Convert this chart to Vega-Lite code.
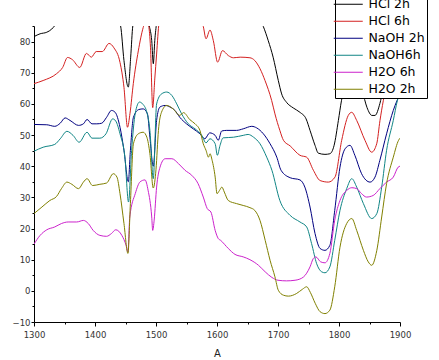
{
"$schema":"https://vega.github.io/schema/vega-lite/v6.json",
"width":366,"height":296,
"autosize":{"type":"none"},
"padding":{"left":34,"top":26,"right":39,"bottom":38},
"background":"white",
"config":{"view":{"stroke":null},"font":"DejaVu Sans"},
"data":{"values":[
{"s":"HCl 2h","x":1300,"y":81.6},{"s":"HCl 2h","x":1310,"y":82.5},{"s":"HCl 2h","x":1321,"y":83},{"s":"HCl 2h","x":1329,"y":84},{"s":"HCl 2h","x":1334,"y":85.1},{"s":"HCl 2h","x":1345,"y":88},{"s":"HCl 2h","x":1380,"y":92},{"s":"HCl 2h","x":1420,"y":92},{"s":"HCl 2h","x":1436,"y":88},{"s":"HCl 2h","x":1442,"y":85},{"s":"HCl 2h","x":1447.5,"y":73.9},{"s":"HCl 2h","x":1454.6,"y":65.4},{"s":"HCl 2h","x":1458.5,"y":75},{"s":"HCl 2h","x":1462,"y":85},{"s":"HCl 2h","x":1470,"y":90},{"s":"HCl 2h","x":1482,"y":90},{"s":"HCl 2h","x":1489,"y":85},{"s":"HCl 2h","x":1493,"y":80.3},{"s":"HCl 2h","x":1495.6,"y":72.9},{"s":"HCl 2h","x":1498,"y":80.3},{"s":"HCl 2h","x":1501,"y":86},{"s":"HCl 2h","x":1510,"y":93},{"s":"HCl 2h","x":1560,"y":98},{"s":"HCl 2h","x":1640,"y":95},{"s":"HCl 2h","x":1668,"y":88},{"s":"HCl 2h","x":1676,"y":84.8},{"s":"HCl 2h","x":1684,"y":80.3},{"s":"HCl 2h","x":1692,"y":75},{"s":"HCl 2h","x":1700.5,"y":67.5},{"s":"HCl 2h","x":1706,"y":63.2},{"s":"HCl 2h","x":1714,"y":60.5},{"s":"HCl 2h","x":1725,"y":58.7},{"s":"HCl 2h","x":1736,"y":57.3},{"s":"HCl 2h","x":1746,"y":55.2},{"s":"HCl 2h","x":1752.5,"y":51.5},{"s":"HCl 2h","x":1760.7,"y":46.7},{"s":"HCl 2h","x":1766,"y":44.2},{"s":"HCl 2h","x":1777,"y":43.8},{"s":"HCl 2h","x":1785,"y":44},{"s":"HCl 2h","x":1792,"y":46.7},{"s":"HCl 2h","x":1799,"y":54.7},{"s":"HCl 2h","x":1804,"y":61},{"s":"HCl 2h","x":1812,"y":67},{"s":"HCl 2h","x":1822,"y":70},{"s":"HCl 2h","x":1830,"y":69},{"s":"HCl 2h","x":1838,"y":64.3},{"s":"HCl 2h","x":1846,"y":58.8},{"s":"HCl 2h","x":1854,"y":56.3},{"s":"HCl 2h","x":1859,"y":56.3},{"s":"HCl 2h","x":1867,"y":60.1},{"s":"HCl 2h","x":1872,"y":64.3},{"s":"HCl 2h","x":1880,"y":70},{"s":"HCl 2h","x":1890,"y":75},{"s":"HCl 2h","x":1900,"y":78},
{"s":"HCl 6h","x":1300,"y":66.5},{"s":"HCl 6h","x":1315,"y":67.5},{"s":"HCl 6h","x":1337,"y":69.7},{"s":"HCl 6h","x":1347,"y":71.7},{"s":"HCl 6h","x":1355,"y":74.9},{"s":"HCl 6h","x":1363,"y":74.2},{"s":"HCl 6h","x":1375,"y":71.7},{"s":"HCl 6h","x":1386,"y":76.2},{"s":"HCl 6h","x":1394,"y":75},{"s":"HCl 6h","x":1402,"y":76.8},{"s":"HCl 6h","x":1412,"y":76.8},{"s":"HCl 6h","x":1423,"y":79.4},{"s":"HCl 6h","x":1431,"y":78},{"s":"HCl 6h","x":1441,"y":73.3},{"s":"HCl 6h","x":1447.5,"y":65.3},{"s":"HCl 6h","x":1453.3,"y":52.5},{"s":"HCl 6h","x":1457.4,"y":57},{"s":"HCl 6h","x":1462.8,"y":66.5},{"s":"HCl 6h","x":1471,"y":77},{"s":"HCl 6h","x":1479,"y":84.5},{"s":"HCl 6h","x":1484,"y":87},{"s":"HCl 6h","x":1488,"y":85},{"s":"HCl 6h","x":1491,"y":78},{"s":"HCl 6h","x":1494.6,"y":58.8},{"s":"HCl 6h","x":1498,"y":68},{"s":"HCl 6h","x":1501,"y":76},{"s":"HCl 6h","x":1505,"y":86},{"s":"HCl 6h","x":1515,"y":92},{"s":"HCl 6h","x":1545,"y":95},{"s":"HCl 6h","x":1570,"y":89},{"s":"HCl 6h","x":1577.6,"y":84.8},{"s":"HCl 6h","x":1582,"y":80.9},{"s":"HCl 6h","x":1588.5,"y":83.7},{"s":"HCl 6h","x":1594,"y":80.3},{"s":"HCl 6h","x":1601,"y":73.4},{"s":"HCl 6h","x":1609,"y":77.1},{"s":"HCl 6h","x":1618.6,"y":75.5},{"s":"HCl 6h","x":1627,"y":74.8},{"s":"HCl 6h","x":1638,"y":75},{"s":"HCl 6h","x":1654,"y":74.8},{"s":"HCl 6h","x":1662,"y":73.9},{"s":"HCl 6h","x":1670.5,"y":71.3},{"s":"HCl 6h","x":1678.7,"y":67.5},{"s":"HCl 6h","x":1689.6,"y":61.1},{"s":"HCl 6h","x":1695,"y":56.8},{"s":"HCl 6h","x":1703,"y":51.5},{"s":"HCl 6h","x":1709,"y":48.3},{"s":"HCl 6h","x":1720,"y":46.5},{"s":"HCl 6h","x":1736,"y":43.5},{"s":"HCl 6h","x":1747,"y":42.9},{"s":"HCl 6h","x":1758,"y":38.7},{"s":"HCl 6h","x":1769,"y":35.4},{"s":"HCl 6h","x":1782.5,"y":34.9},{"s":"HCl 6h","x":1793.4,"y":36.5},{"s":"HCl 6h","x":1804.4,"y":48.3},{"s":"HCl 6h","x":1815.2,"y":56.3},{"s":"HCl 6h","x":1820.8,"y":57.3},{"s":"HCl 6h","x":1829,"y":54.7},{"s":"HCl 6h","x":1842.6,"y":48.3},{"s":"HCl 6h","x":1853.6,"y":44.5},{"s":"HCl 6h","x":1861.8,"y":47.2},{"s":"HCl 6h","x":1867.2,"y":54.7},{"s":"HCl 6h","x":1872.6,"y":61},{"s":"HCl 6h","x":1880,"y":68},{"s":"HCl 6h","x":1890,"y":72},{"s":"HCl 6h","x":1900,"y":75},
{"s":"NaOH 2h","x":1300,"y":53.4},{"s":"NaOH 2h","x":1321,"y":53.3},{"s":"NaOH 2h","x":1334,"y":52.8},{"s":"NaOH 2h","x":1343,"y":53.8},{"s":"NaOH 2h","x":1351,"y":55.5},{"s":"NaOH 2h","x":1359,"y":54.7},{"s":"NaOH 2h","x":1373,"y":53.1},{"s":"NaOH 2h","x":1381,"y":53.6},{"s":"NaOH 2h","x":1387,"y":55},{"s":"NaOH 2h","x":1395,"y":53.6},{"s":"NaOH 2h","x":1403,"y":53.6},{"s":"NaOH 2h","x":1411,"y":53.8},{"s":"NaOH 2h","x":1419,"y":55.7},{"s":"NaOH 2h","x":1427,"y":57.9},{"s":"NaOH 2h","x":1433,"y":57.3},{"s":"NaOH 2h","x":1441,"y":52.5},{"s":"NaOH 2h","x":1447.5,"y":45.1},{"s":"NaOH 2h","x":1454.6,"y":35},{"s":"NaOH 2h","x":1458,"y":45},{"s":"NaOH 2h","x":1463,"y":55.7},{"s":"NaOH 2h","x":1472,"y":58.2},{"s":"NaOH 2h","x":1479,"y":58.4},{"s":"NaOH 2h","x":1486,"y":56.8},{"s":"NaOH 2h","x":1490,"y":49.3},{"s":"NaOH 2h","x":1495.5,"y":40},{"s":"NaOH 2h","x":1501,"y":54.7},{"s":"NaOH 2h","x":1506.5,"y":59},{"s":"NaOH 2h","x":1515,"y":59.5},{"s":"NaOH 2h","x":1523,"y":59},{"s":"NaOH 2h","x":1531,"y":57.9},{"s":"NaOH 2h","x":1539,"y":55.7},{"s":"NaOH 2h","x":1550,"y":53.6},{"s":"NaOH 2h","x":1561,"y":52},{"s":"NaOH 2h","x":1572,"y":50.4},{"s":"NaOH 2h","x":1580,"y":48.8},{"s":"NaOH 2h","x":1588,"y":50.7},{"s":"NaOH 2h","x":1597,"y":49.9},{"s":"NaOH 2h","x":1602,"y":48.3},{"s":"NaOH 2h","x":1607.7,"y":51.3},{"s":"NaOH 2h","x":1616,"y":51.5},{"s":"NaOH 2h","x":1632,"y":51.5},{"s":"NaOH 2h","x":1643,"y":52},{"s":"NaOH 2h","x":1657,"y":52.8},{"s":"NaOH 2h","x":1665,"y":52.3},{"s":"NaOH 2h","x":1676,"y":50.4},{"s":"NaOH 2h","x":1687,"y":47.2},{"s":"NaOH 2h","x":1698,"y":42.9},{"s":"NaOH 2h","x":1705,"y":38.7},{"s":"NaOH 2h","x":1720,"y":36.3},{"s":"NaOH 2h","x":1736,"y":35.6},{"s":"NaOH 2h","x":1744,"y":33.3},{"s":"NaOH 2h","x":1752.5,"y":26.9},{"s":"NaOH 2h","x":1760.7,"y":18.4},{"s":"NaOH 2h","x":1769,"y":13.6},{"s":"NaOH 2h","x":1777,"y":13},{"s":"NaOH 2h","x":1785,"y":14.6},{"s":"NaOH 2h","x":1793,"y":25.8},{"s":"NaOH 2h","x":1801.6,"y":39.7},{"s":"NaOH 2h","x":1810,"y":45.6},{"s":"NaOH 2h","x":1818,"y":46.7},{"s":"NaOH 2h","x":1826,"y":43.5},{"s":"NaOH 2h","x":1837,"y":37.6},{"s":"NaOH 2h","x":1851,"y":34.9},{"s":"NaOH 2h","x":1859,"y":36.5},{"s":"NaOH 2h","x":1867,"y":41.9},{"s":"NaOH 2h","x":1878,"y":50.4},{"s":"NaOH 2h","x":1889,"y":57.9},{"s":"NaOH 2h","x":1895,"y":61},{"s":"NaOH 2h","x":1900,"y":63},
{"s":"NaOH6h","x":1300,"y":44.8},{"s":"NaOH6h","x":1315,"y":46.1},{"s":"NaOH6h","x":1334,"y":47},{"s":"NaOH6h","x":1343,"y":48.8},{"s":"NaOH6h","x":1354,"y":51.2},{"s":"NaOH6h","x":1364,"y":49.9},{"s":"NaOH6h","x":1374,"y":47.7},{"s":"NaOH6h","x":1387,"y":50.9},{"s":"NaOH6h","x":1395,"y":49},{"s":"NaOH6h","x":1408,"y":49},{"s":"NaOH6h","x":1418,"y":50.4},{"s":"NaOH6h","x":1429,"y":55.2},{"s":"NaOH6h","x":1434,"y":54.5},{"s":"NaOH6h","x":1441,"y":50.4},{"s":"NaOH6h","x":1449,"y":42.9},{"s":"NaOH6h","x":1455,"y":28.5},{"s":"NaOH6h","x":1460,"y":45},{"s":"NaOH6h","x":1466,"y":57},{"s":"NaOH6h","x":1473,"y":60.6},{"s":"NaOH6h","x":1478,"y":60},{"s":"NaOH6h","x":1485,"y":57.3},{"s":"NaOH6h","x":1490,"y":51.5},{"s":"NaOH6h","x":1495.5,"y":36},{"s":"NaOH6h","x":1501,"y":60},{"s":"NaOH6h","x":1509,"y":63.2},{"s":"NaOH6h","x":1517.5,"y":63.8},{"s":"NaOH6h","x":1526,"y":62.7},{"s":"NaOH6h","x":1534,"y":60},{"s":"NaOH6h","x":1542,"y":56.8},{"s":"NaOH6h","x":1553,"y":53.6},{"s":"NaOH6h","x":1564,"y":52},{"s":"NaOH6h","x":1575,"y":49.9},{"s":"NaOH6h","x":1582,"y":47.5},{"s":"NaOH6h","x":1588.5,"y":48.8},{"s":"NaOH6h","x":1597,"y":47.2},{"s":"NaOH6h","x":1600.5,"y":43.5},{"s":"NaOH6h","x":1605,"y":46.7},{"s":"NaOH6h","x":1610,"y":49.1},{"s":"NaOH6h","x":1627,"y":49.3},{"s":"NaOH6h","x":1643,"y":49.9},{"s":"NaOH6h","x":1651,"y":50.2},{"s":"NaOH6h","x":1660,"y":49.3},{"s":"NaOH6h","x":1670.5,"y":47.2},{"s":"NaOH6h","x":1681.5,"y":42.9},{"s":"NaOH6h","x":1690,"y":38.7},{"s":"NaOH6h","x":1703,"y":29},{"s":"NaOH6h","x":1720,"y":24.2},{"s":"NaOH6h","x":1736,"y":22.1},{"s":"NaOH6h","x":1747,"y":20.5},{"s":"NaOH6h","x":1755,"y":15.2},{"s":"NaOH6h","x":1763.4,"y":8.7},{"s":"NaOH6h","x":1771.6,"y":6.1},{"s":"NaOH6h","x":1777,"y":5.8},{"s":"NaOH6h","x":1785,"y":7.7},{"s":"NaOH6h","x":1793,"y":16.2},{"s":"NaOH6h","x":1801.6,"y":25.8},{"s":"NaOH6h","x":1812.6,"y":32.8},{"s":"NaOH6h","x":1821,"y":36},{"s":"NaOH6h","x":1829,"y":33.3},{"s":"NaOH6h","x":1840,"y":28},{"s":"NaOH6h","x":1853.6,"y":23.2},{"s":"NaOH6h","x":1862,"y":24.8},{"s":"NaOH6h","x":1870,"y":33.3},{"s":"NaOH6h","x":1878,"y":45.1},{"s":"NaOH6h","x":1889,"y":54.7},{"s":"NaOH6h","x":1895.6,"y":61},{"s":"NaOH6h","x":1900,"y":64},
{"s":"H2O 6h","x":1300,"y":15},{"s":"H2O 6h","x":1310,"y":17.8},{"s":"H2O 6h","x":1321,"y":19.6},{"s":"H2O 6h","x":1334,"y":20.5},{"s":"H2O 6h","x":1345,"y":21.6},{"s":"H2O 6h","x":1356,"y":22.1},{"s":"H2O 6h","x":1370,"y":22.1},{"s":"H2O 6h","x":1381,"y":22.6},{"s":"H2O 6h","x":1389,"y":21.6},{"s":"H2O 6h","x":1397,"y":19.4},{"s":"H2O 6h","x":1408,"y":17.8},{"s":"H2O 6h","x":1419,"y":17.5},{"s":"H2O 6h","x":1427,"y":18.4},{"s":"H2O 6h","x":1434,"y":19.6},{"s":"H2O 6h","x":1444,"y":17.8},{"s":"H2O 6h","x":1451,"y":14.6},{"s":"H2O 6h","x":1454,"y":12.5},{"s":"H2O 6h","x":1457,"y":23.7},{"s":"H2O 6h","x":1466,"y":31.2},{"s":"H2O 6h","x":1474,"y":35},{"s":"H2O 6h","x":1482,"y":35.6},{"s":"H2O 6h","x":1487,"y":32.3},{"s":"H2O 6h","x":1493,"y":23.7},{"s":"H2O 6h","x":1494.6,"y":19.4},{"s":"H2O 6h","x":1497,"y":22.7},{"s":"H2O 6h","x":1501,"y":33.3},{"s":"H2O 6h","x":1506.6,"y":39.7},{"s":"H2O 6h","x":1515,"y":42.4},{"s":"H2O 6h","x":1526,"y":42.4},{"s":"H2O 6h","x":1537,"y":40.8},{"s":"H2O 6h","x":1547.5,"y":38.7},{"s":"H2O 6h","x":1558.5,"y":37.1},{"s":"H2O 6h","x":1569,"y":34.4},{"s":"H2O 6h","x":1577.5,"y":30.1},{"s":"H2O 6h","x":1584,"y":26.4},{"s":"H2O 6h","x":1590,"y":25.3},{"s":"H2O 6h","x":1597,"y":19.4},{"s":"H2O 6h","x":1602,"y":16.8},{"s":"H2O 6h","x":1606,"y":16.2},{"s":"H2O 6h","x":1618.5,"y":13.6},{"s":"H2O 6h","x":1629.5,"y":11.7},{"s":"H2O 6h","x":1643,"y":10.9},{"s":"H2O 6h","x":1654,"y":10},{"s":"H2O 6h","x":1668,"y":8.2},{"s":"H2O 6h","x":1679,"y":6.1},{"s":"H2O 6h","x":1690,"y":4.3},{"s":"H2O 6h","x":1700,"y":3.4},{"s":"H2O 6h","x":1714,"y":3.2},{"s":"H2O 6h","x":1728,"y":3.4},{"s":"H2O 6h","x":1741.5,"y":4.4},{"s":"H2O 6h","x":1752.5,"y":7.7},{"s":"H2O 6h","x":1758,"y":10.4},{"s":"H2O 6h","x":1762,"y":10.9},{"s":"H2O 6h","x":1770,"y":9.3},{"s":"H2O 6h","x":1777,"y":9},{"s":"H2O 6h","x":1785,"y":12},{"s":"H2O 6h","x":1793,"y":22.7},{"s":"H2O 6h","x":1801.6,"y":29},{"s":"H2O 6h","x":1812.6,"y":32.2},{"s":"H2O 6h","x":1821,"y":33.1},{"s":"H2O 6h","x":1829,"y":32.8},{"s":"H2O 6h","x":1837,"y":31.2},{"s":"H2O 6h","x":1845,"y":30.1},{"s":"H2O 6h","x":1856,"y":30.6},{"s":"H2O 6h","x":1867,"y":32.8},{"s":"H2O 6h","x":1878,"y":34.9},{"s":"H2O 6h","x":1889,"y":36.5},{"s":"H2O 6h","x":1897,"y":39.7},{"s":"H2O 6h","x":1900,"y":40},
{"s":"H2O 2h","x":1300,"y":24.8},{"s":"H2O 2h","x":1313,"y":26.9},{"s":"H2O 2h","x":1326,"y":29},{"s":"H2O 2h","x":1337,"y":30.3},{"s":"H2O 2h","x":1345,"y":32.8},{"s":"H2O 2h","x":1354,"y":34.9},{"s":"H2O 2h","x":1362,"y":34.2},{"s":"H2O 2h","x":1373,"y":32.8},{"s":"H2O 2h","x":1381,"y":34.9},{"s":"H2O 2h","x":1387,"y":36},{"s":"H2O 2h","x":1396,"y":33.8},{"s":"H2O 2h","x":1408,"y":34.2},{"s":"H2O 2h","x":1419,"y":34.6},{"s":"H2O 2h","x":1430,"y":37.6},{"s":"H2O 2h","x":1436,"y":36.5},{"s":"H2O 2h","x":1441,"y":31.2},{"s":"H2O 2h","x":1447.5,"y":21.6},{"s":"H2O 2h","x":1454,"y":12},{"s":"H2O 2h","x":1458,"y":28},{"s":"H2O 2h","x":1463,"y":47.2},{"s":"H2O 2h","x":1471,"y":50.4},{"s":"H2O 2h","x":1479,"y":50.9},{"s":"H2O 2h","x":1485,"y":49.3},{"s":"H2O 2h","x":1490,"y":44},{"s":"H2O 2h","x":1495.5,"y":33},{"s":"H2O 2h","x":1500,"y":39},{"s":"H2O 2h","x":1504,"y":51.5},{"s":"H2O 2h","x":1509,"y":57.3},{"s":"H2O 2h","x":1517.5,"y":59.5},{"s":"H2O 2h","x":1528,"y":58.4},{"s":"H2O 2h","x":1539,"y":56.3},{"s":"H2O 2h","x":1545,"y":57.2},{"s":"H2O 2h","x":1555.7,"y":54.9},{"s":"H2O 2h","x":1564,"y":53.6},{"s":"H2O 2h","x":1572,"y":51.5},{"s":"H2O 2h","x":1577.5,"y":47.2},{"s":"H2O 2h","x":1582,"y":45.1},{"s":"H2O 2h","x":1586,"y":42.9},{"s":"H2O 2h","x":1588.5,"y":44},{"s":"H2O 2h","x":1592,"y":41.9},{"s":"H2O 2h","x":1597,"y":36.5},{"s":"H2O 2h","x":1600,"y":31.2},{"s":"H2O 2h","x":1604,"y":32.2},{"s":"H2O 2h","x":1608,"y":33.3},{"s":"H2O 2h","x":1612,"y":31.7},{"s":"H2O 2h","x":1618.5,"y":29},{"s":"H2O 2h","x":1632,"y":28},{"s":"H2O 2h","x":1643,"y":27.4},{"s":"H2O 2h","x":1654,"y":26.7},{"s":"H2O 2h","x":1662,"y":25.8},{"s":"H2O 2h","x":1670.5,"y":22.6},{"s":"H2O 2h","x":1679,"y":16.2},{"s":"H2O 2h","x":1687,"y":9.8},{"s":"H2O 2h","x":1695,"y":4.5},{"s":"H2O 2h","x":1700.5,"y":0.2},{"s":"H2O 2h","x":1709,"y":-1.4},{"s":"H2O 2h","x":1717,"y":-1.7},{"s":"H2O 2h","x":1730,"y":-0.9},{"s":"H2O 2h","x":1740,"y":0.5},{"s":"H2O 2h","x":1747,"y":1.3},{"s":"H2O 2h","x":1753,"y":-0.5},{"s":"H2O 2h","x":1761,"y":-4},{"s":"H2O 2h","x":1769,"y":-6.7},{"s":"H2O 2h","x":1777,"y":-7.3},{"s":"H2O 2h","x":1785,"y":-6.2},{"s":"H2O 2h","x":1793,"y":1.3},{"s":"H2O 2h","x":1801.6,"y":14},{"s":"H2O 2h","x":1812.6,"y":21.6},{"s":"H2O 2h","x":1821,"y":23.2},{"s":"H2O 2h","x":1829,"y":19.4},{"s":"H2O 2h","x":1840,"y":13},{"s":"H2O 2h","x":1848,"y":9.3},{"s":"H2O 2h","x":1853.6,"y":8.2},{"s":"H2O 2h","x":1862,"y":13},{"s":"H2O 2h","x":1870,"y":23.7},{"s":"H2O 2h","x":1878,"y":34.4},{"s":"H2O 2h","x":1889,"y":42.9},{"s":"H2O 2h","x":1897.6,"y":48.3},{"s":"H2O 2h","x":1900,"y":49}
]},
"mark":{"type":"line","clip":true,"interpolate":"monotone","strokeWidth":1},
"encoding":{
"x":{"field":"x","type":"quantitative","scale":{"domain":[1300,1900],"nice":false,"zero":false},
"axis":{"title":"A","format":"d","values":[1300,1350,1400,1450,1500,1550,1600,1650,1700,1750,1800,1850,1900],
"labelExpr":"datum.value % 100 === 0 ? datum.label : ''",
"tickSize":{"condition":{"test":"datum.value % 100 === 0","value":4},"value":2},
"grid":false,"domainColor":"black","tickColor":"black","labelFont":"DejaVu Sans","labelFontSize":8.5,"labelColor":"#333333","labelPadding":4,"labelFlush":false,"labelOverlap":false,
"titleFont":"DejaVu Sans","titleFontSize":10,"titleFontWeight":"normal","titleColor":"#222222","titlePadding":10}},
"y":{"field":"y","type":"quantitative","scale":{"domain":[-10,85],"nice":false,"zero":false},
"axis":{"title":null,"format":"d","values":[-10,-5,0,5,10,15,20,25,30,35,40,45,50,55,60,65,70,75,80,85],
"labelExpr":"datum.value % 10 === 0 ? datum.label : ''",
"tickSize":{"condition":{"test":"datum.value % 10 === 0","value":3},"value":2},
"grid":false,"domainColor":"black","tickColor":"black","labelFont":"DejaVu Sans","labelFontSize":8.5,"labelColor":"#333333","labelPadding":1,"labelOverlap":false}},
"color":{"field":"s","type":"nominal",
"scale":{"domain":["HCl 2h","HCl 6h","NaOH 2h","NaOH6h","H2O 6h","H2O 2h"],"range":["#000000","#d42020","#000080","#108585","#cc22cc","#808000"]},
"legend":{"title":null,"orient":"none","legendX":301,"legendY":-30,"symbolType":"M-2.9,0H2.9","symbolSize":100,"symbolStrokeWidth":1,
"labelFont":"DejaVu Sans","labelFontSize":12.5,"labelColor":"black","fillColor":"white","strokeColor":"black","padding":2,"rowPadding":4,"symbolOffset":5,"labelOffset":14}}
}
}
